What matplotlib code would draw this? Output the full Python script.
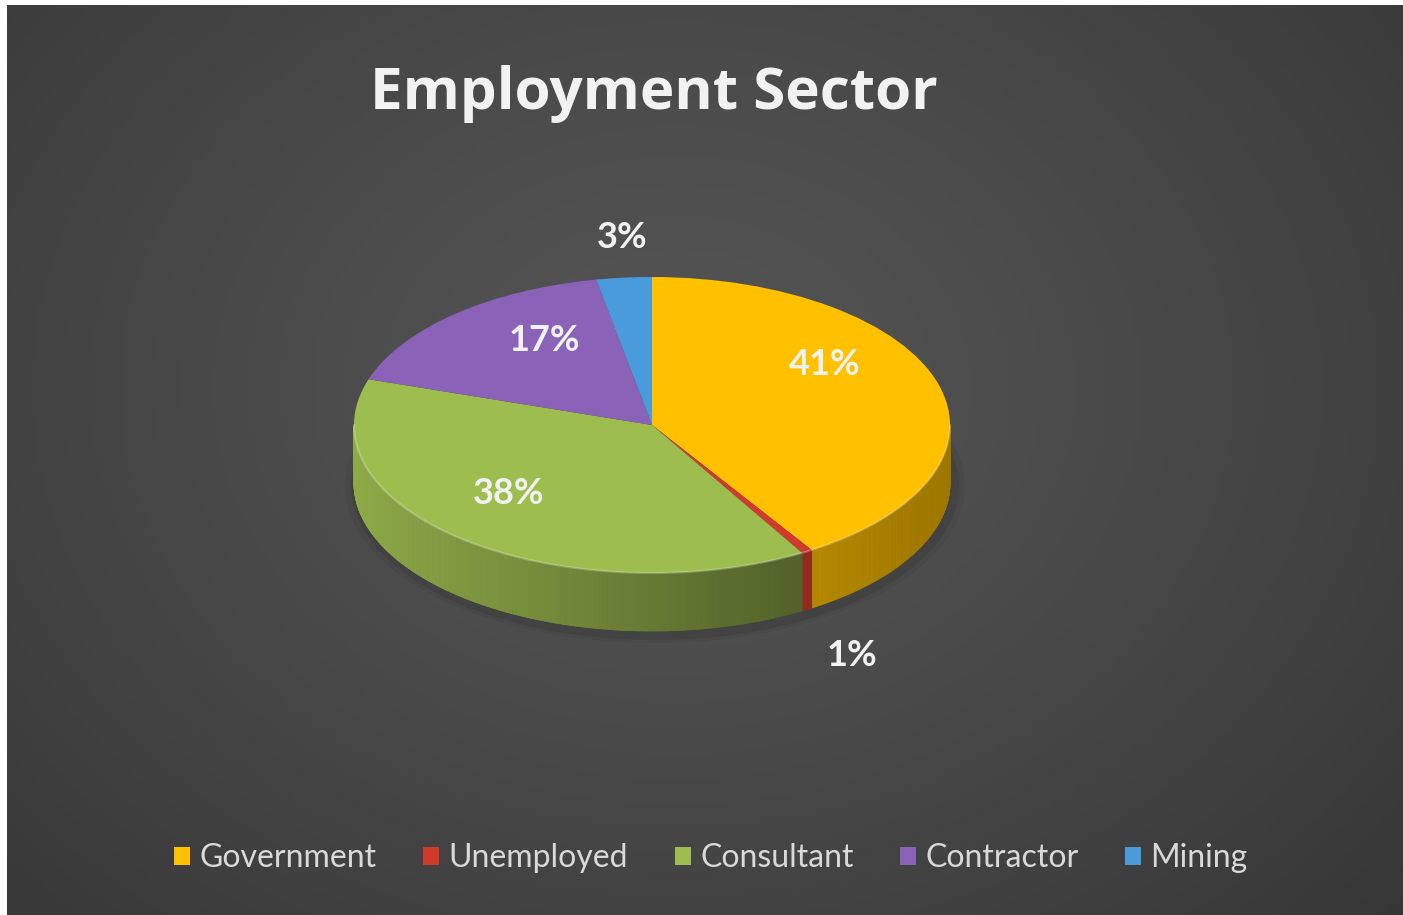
import numpy as np
import matplotlib.pyplot as plt
from matplotlib.patches import Patch
from matplotlib.collections import PolyCollection
from matplotlib.colors import to_rgb

# data
sectors = ['Government', 'Unemployed', 'Consultant', 'Contractor', 'Mining']
shares = [41, 0.6, 38.4, 17, 3]
colors = ['#FFC000', '#D0392B', '#9EBD4F', '#8A63B8', '#4A9BDC']

# label spots in pie units (x: half-width, y: half-height of the top face)
label_xy = [(0.58, 0.41), (0.67, -1.56), (-0.48, -0.46), (-0.36, 0.57), (-0.10, 1.27)]

W, H = 1403, 915
fig = plt.figure(figsize=(W / 100, H / 100), dpi=100)
fig.patch.set_facecolor('white')

# dark radial background panel
bg = fig.add_axes([7 / W, 0, 1 - 7 / W, 1 - 5 / H])
yy, xx = np.mgrid[0:1:300j, 0:1:400j]
r = np.sqrt(((xx - 0.48) / 0.7) ** 2 + ((yy - 0.42) / 0.85) ** 2)
g = np.clip(0.33 - 0.115 * r ** 1.3, 0.205, 1)
bg.imshow(np.dstack([g, g, g]), extent=[0, 1, 0, 1], aspect='auto', origin='upper')
bg.axis('off')

# pie geometry in pixels
cx, cy, a, b, depth = 652, 425, 298, 148, 58
d = depth / b
ax = fig.add_axes([(cx - a) / W, (H - (cy + b + depth)) / H, 2 * a / W, (2 * b + depth) / H])

# soft shadow under the pie
t = np.linspace(0, 2 * np.pi, 200)
for k, al in [(1.04, 0.05), (1.02, 0.08)]:
    ax.fill(k * np.cos(t) + 0.01, k * 1.02 * np.sin(t) - d - 0.02, color='black', alpha=al, lw=0, clip_on=False)

# side walls, drawn as thin strips with shading
def side_shade(c):
    if c <= 0.5:
        return 0.9 - 0.38 * (c + 1) / 1.5
    return 0.72 - 0.1 * (c - 0.5) / 0.5

total = sum(shares)
cum = np.concatenate([[0], np.cumsum(shares)])
polys, fcols = [], []
for i, col in enumerate(colors):
    t2 = np.radians(90 - cum[i] / total * 360)
    t1 = np.radians(90 - cum[i + 1] / total * 360)
    ts = np.linspace(t1, t2, max(3, int(abs(t2 - t1) * 120)))
    base = np.array(to_rgb(col))
    for u, v in zip(ts[:-1], ts[1:]):
        m = (u + v) / 2
        if np.sin(m) >= 0:
            continue
        polys.append([(np.cos(u), np.sin(u)), (np.cos(v), np.sin(v)),
                      (np.cos(v), np.sin(v) - d), (np.cos(u), np.sin(u) - d)])
        fcols.append(np.clip(base * side_shade(np.cos(m)), 0, 1))
pc = PolyCollection(polys, facecolors=fcols, edgecolors=fcols, linewidths=0.6, clip_on=False)
ax.add_collection(pc)

# top face
ax.pie(shares, colors=colors, startangle=90, counterclock=False, radius=1,
       wedgeprops=dict(linewidth=0, clip_on=False))
ax.set_aspect('auto')
ax.set_xlim(-1, 1)
ax.set_ylim(-1 - d, 1)
ax.axis('off')

# light rim on front edge of the top face
tf = np.linspace(np.pi, 2 * np.pi, 200)
ax.plot(np.cos(tf), np.sin(tf), color='white', alpha=0.25, lw=1.5, clip_on=False)

# percentage labels
for v, (lx, ly) in zip(shares, label_xy):
    ax.text(lx, ly, f'{round(v / total * 100):.0f}%', ha='center', va='center',
            fontsize=26, fontweight='bold', family='Lato', color='#F2F2F2', clip_on=False)

fig.text(654 / W, 1 - 94 / H, 'Employment Sector', ha='center', va='center',
         fontsize=42, fontweight='bold', family='Open Sans', color='#F2F2F2')

handles = [Patch(facecolor=c, edgecolor='none') for c in colors]
leg = fig.legend(handles, sectors, loc='center', bbox_to_anchor=(711 / W, 1 - 858 / H), ncol=5,
                 frameon=False, handlelength=0.5, handleheight=0.5, handletextpad=0.3,
                 columnspacing=1.45, prop={'family': 'Lato', 'size': 23})
for txt in leg.get_texts():
    txt.set_color('#D9D9D9')

fig.savefig('out.png', dpi=100)
